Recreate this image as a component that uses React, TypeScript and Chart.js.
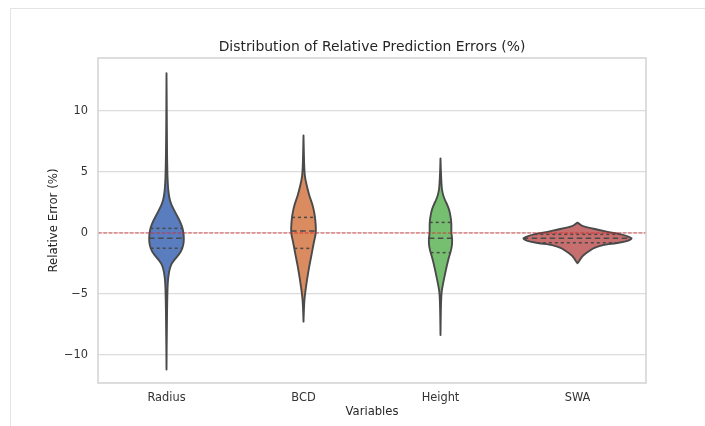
import React, { useEffect, useRef } from 'react';
import { Chart, registerables } from 'chart.js';

Chart.register(...registerables);

// ---- data ----
const categories = ['Radius', 'BCD', 'Height', 'SWA'];
const yTicks = [-10, -5, 0, 5, 10];
const yMin = -12.3;
const yMax = 14.35;
const chartTitle = 'Distribution of Relative Prediction Errors (%)';

// density profiles: y value -> relative density (1 = widest violin)
const radiusValues = [13.1, 8, 5, 4, 3.5, 3.0, 2.5, 2.0, 1.5, 1.0, 0.5, 0.0, -0.5, -1.0, -1.5, -2.0, -2.5, -3.0, -3.5, -4.0, -5, -8, -11.2];
const radiusDensity = [0, 0.005, 0.015, 0.024, 0.033, 0.047, 0.073, 0.124, 0.182, 0.241, 0.288, 0.31, 0.319, 0.307, 0.27, 0.182, 0.091, 0.055, 0.036, 0.024, 0.015, 0.005, 0];
const radiusQuartiles = [0.38, -0.43, -1.25];

const bcdValues = [8.0, 6, 5, 4.6, 4.2, 3.8, 3.0, 2.4, 1.6, 1.0, 0.3, -0.2, -0.6, -1.2, -1.7, -2.4, -3.0, -3.7, -4.4, -5.2, -6, -7.27];
const bcdDensity = [0, 0.009, 0.018, 0.027, 0.044, 0.064, 0.109, 0.161, 0.201, 0.217, 0.228, 0.219, 0.197, 0.17, 0.151, 0.119, 0.095, 0.069, 0.046, 0.022, 0.009, 0];
const bcdQuartiles = [1.28, 0.16, -1.26];

const heightValues = [6.12, 5, 4, 3.5, 3.0, 2.7, 2.3, 1.9, 1.4, 0.9, 0.4, 0.0, -0.4, -0.8, -1.1, -1.5, -1.9, -2.6, -3.3, -3.9, -4.4, -4.9, -6, -8.36];
const heightDensity = [0, 0.007, 0.018, 0.027, 0.055, 0.082, 0.124, 0.159, 0.182, 0.197, 0.199, 0.197, 0.212, 0.212, 0.206, 0.188, 0.159, 0.119, 0.086, 0.058, 0.036, 0.018, 0.007, 0];
const heightQuartiles = [0.87, -0.43, -1.61];

const swaValues = [0.85, 0.74, 0.6, 0.52, 0.4, 0.25, 0.1, -0.03, -0.2, -0.44, -0.6, -0.7, -0.85, -0.98, -1.2, -1.39, -1.6, -1.8, -2.0, -2.2, -2.35, -2.48];
const swaDensity = [0, 0.036, 0.073, 0.122, 0.237, 0.396, 0.547, 0.712, 0.876, 1.0, 0.949, 0.876, 0.675, 0.456, 0.31, 0.243, 0.173, 0.113, 0.073, 0.046, 0.022, 0];
const swaQuartiles = [-0.11, -0.44, -0.8];

const violinValues = [radiusValues, bcdValues, heightValues, swaValues];
const violinDensity = [radiusDensity, bcdDensity, heightDensity, swaDensity];
const violinQuartiles = [radiusQuartiles, bcdQuartiles, heightQuartiles, swaQuartiles];
const referenceValue = 0;

// ---- style ----
const fillColors = ['#597dbf', '#da8b5f', '#76bf71', '#c76e6e'];
const outlineColor = '#4a4a4a';
const violinWidth = 0.8;
const FONT = "'DejaVu Sans', 'Liberation Sans', sans-serif";

function densityAt(values: number[], dens: number[], v: number): number {
  for (let k = 0; k < values.length - 1; k++) {
    const a = values[k];
    const b = values[k + 1];
    if ((v <= a && v >= b) || (v >= a && v <= b)) {
      const t = a === b ? 0 : (v - a) / (b - a);
      return dens[k] + t * (dens[k + 1] - dens[k]);
    }
  }
  return 0;
}

const violinPlugin = {
  id: 'violinPlugin',
  afterDatasetsDraw(chart: any) {
    const { ctx, chartArea, scales } = chart;
    const x = scales.x;
    const y = scales.y;
    const unit = x.getPixelForValue(1) - x.getPixelForValue(0);
    ctx.save();
    ctx.beginPath();
    ctx.rect(chartArea.left, chartArea.top, chartArea.right - chartArea.left, chartArea.bottom - chartArea.top);
    ctx.clip();

    categories.forEach((_, i) => {
      const vals = violinValues[i];
      const dens = violinDensity[i];
      const cx = x.getPixelForValue(i);
      const hw = (d: number) => d * (violinWidth / 2) * unit;
      const pts: [number, number][] = [];
      for (let k = 0; k < vals.length; k++) pts.push([cx + hw(dens[k]), y.getPixelForValue(vals[k])]);
      for (let k = vals.length - 1; k >= 0; k--) pts.push([cx - hw(dens[k]), y.getPixelForValue(vals[k])]);

      ctx.beginPath();
      ctx.moveTo(pts[0][0], pts[0][1]);
      for (let k = 1; k < pts.length - 1; k++) {
        const mx = (pts[k][0] + pts[k + 1][0]) / 2;
        const my = (pts[k][1] + pts[k + 1][1]) / 2;
        ctx.quadraticCurveTo(pts[k][0], pts[k][1], mx, my);
      }
      ctx.lineTo(pts[pts.length - 1][0], pts[pts.length - 1][1]);
      ctx.closePath();
      ctx.fillStyle = fillColors[i];
      ctx.fill();
      ctx.lineWidth = 1.9;
      ctx.lineJoin = 'round';
      ctx.strokeStyle = outlineColor;
      ctx.setLineDash([]);
      ctx.stroke();

      violinQuartiles[i].forEach((q, qi) => {
        const w = hw(densityAt(vals, dens, q));
        const py = y.getPixelForValue(q);
        ctx.beginPath();
        ctx.setLineDash(qi === 1 ? [5.5, 3.5] : [3, 3]);
        ctx.lineWidth = 1.5;
        ctx.strokeStyle = outlineColor;
        ctx.moveTo(cx - w, py);
        ctx.lineTo(cx + w, py);
        ctx.stroke();
      });
    });

    // reference line
    const zy = y.getPixelForValue(referenceValue);
    ctx.beginPath();
    ctx.setLineDash([3.7, 1.6]);
    ctx.lineWidth = 1.1;
    ctx.strokeStyle = 'rgba(214, 39, 40, 0.8)';
    ctx.moveTo(chartArea.left, zy);
    ctx.lineTo(chartArea.right, zy);
    ctx.stroke();
    ctx.restore();

    // plot frame
    ctx.save();
    ctx.setLineDash([]);
    ctx.lineWidth = 1.4;
    ctx.strokeStyle = '#cfcfcf';
    ctx.strokeRect(chartArea.left, chartArea.top, chartArea.right - chartArea.left, chartArea.bottom - chartArea.top);

    // title centred over the plot area
    ctx.fillStyle = '#262626';
    ctx.font = `13.9px ${FONT}`;
    ctx.textAlign = 'center';
    ctx.textBaseline = 'middle';
    ctx.fillText(chartTitle, (chartArea.left + chartArea.right) / 2, chartArea.top - 11);
    ctx.restore();
  },
};

export default function App() {
  const canvasRef = useRef<HTMLCanvasElement | null>(null);

  useEffect(() => {
    const canvas = canvasRef.current;
    if (!canvas) return;
    const chart = new Chart(canvas, {
      type: 'line',
      data: { labels: categories, datasets: [] },
      options: {
        responsive: false,
        animation: false,
        devicePixelRatio: 1,
        layout: { padding: { left: 43, right: 59, top: 58, bottom: 3 } },
        plugins: {
          legend: { display: false },
          tooltip: { enabled: false },
          title: { display: false },
        },
        scales: {
          x: {
            type: 'category',
            offset: true,
            grid: { display: false, drawTicks: false },
            border: { display: false },
            ticks: { color: '#333333', font: { family: FONT, size: 11.4 }, padding: 8 },
            title: {
              display: true,
              text: 'Variables',
              color: '#262626',
              font: { family: FONT, size: 11.6 },
              padding: { top: 0, bottom: 4 },
            },
            afterFit: (s: any) => { s.height = 40; },
          },
          y: {
            type: 'linear',
            min: yMin,
            max: yMax,
            grid: { color: '#dcdcdc', lineWidth: 1.2, drawTicks: false },
            border: { display: false },
            afterBuildTicks: (s: any) => { s.ticks = yTicks.map((v) => ({ value: v })); },
            ticks: {
              color: '#333333',
              font: { family: FONT, size: 11.4 },
              padding: 10,
              callback: (v: any) => (Number(v) < 0 ? '\u2212' + Math.abs(Number(v)) : String(v)),
            },
            title: {
              display: true,
              text: 'Relative Error (%)',
              color: '#262626',
              font: { family: FONT, size: 11.8 },
              padding: { top: 4, bottom: 0 },
            },
            afterFit: (s: any) => { s.width = 55; },
          },
        },
      },
      plugins: [violinPlugin],
    } as any);
    return () => chart.destroy();
  }, []);

  return (
    <div style={{ position: 'fixed', left: 0, top: 0, width: 705, height: 426, background: '#ffffff' }}>
      <div
        style={{
          position: 'absolute',
          left: 10,
          top: 8,
          right: 0,
          bottom: 0,
          borderTop: '1px solid #e4e4e4',
          borderLeft: '1px solid #e4e4e4',
        }}
      />
      <canvas ref={canvasRef} width={705} height={426} style={{ position: 'absolute', left: 0, top: 0, width: 705, height: 426 }} />
    </div>
  );
}
